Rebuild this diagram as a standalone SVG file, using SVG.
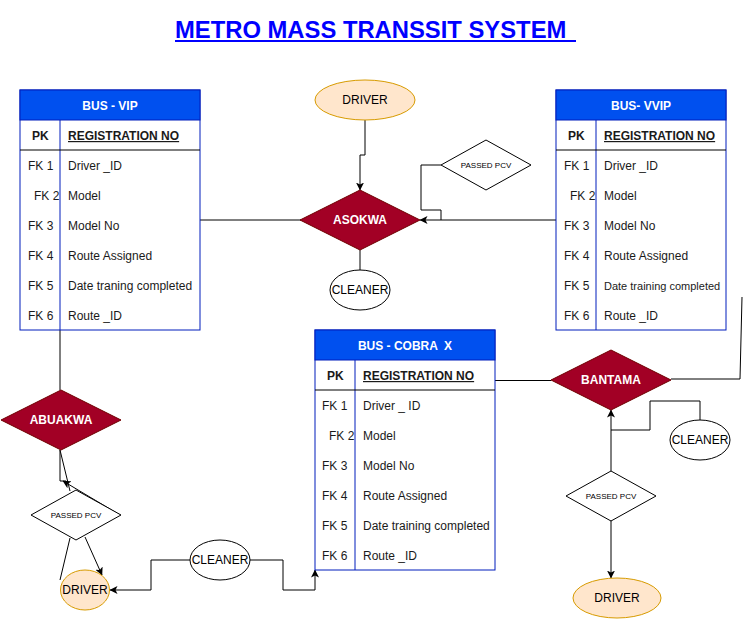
<svg xmlns="http://www.w3.org/2000/svg" width="744" height="620" viewBox="0 0 744 620">
<style>
.t{font-family:"Liberation Sans",Arial,sans-serif;font-size:12px;fill:#1a1a1a}
.b{font-weight:bold}
.hd{font-family:"Liberation Sans",Arial,sans-serif;font-size:12px;font-weight:bold;fill:#ffffff;text-anchor:middle}
.head{fill:#0050EF;stroke:#001DBC;stroke-width:1}
.body{fill:#ffffff;stroke:#001DBC;stroke-width:1}
.div{stroke:#001DBC;stroke-width:1}
.sep{stroke:#000000;stroke-width:1}
.rel{fill:#A20025;stroke:#6F0000;stroke-width:1}
.rt{font-family:"Liberation Sans",Arial,sans-serif;font-size:12px;font-weight:bold;fill:#ffffff;text-anchor:middle}
.drv{fill:#FFE6CC;stroke:#D79B00;stroke-width:1}
.cln{fill:#ffffff;stroke:#000000;stroke-width:1}
.et{font-family:"Liberation Sans",Arial,sans-serif;font-size:12px;fill:#000000;text-anchor:middle}
.pcv{fill:#ffffff;stroke:#000000;stroke-width:1}
.pt{font-family:"Liberation Sans",Arial,sans-serif;font-size:8px;fill:#000000;text-anchor:middle}
.c{fill:none;stroke:#000000;stroke-width:1}
.ca{fill:none;stroke:#000000;stroke-width:1;marker-end:url(#arr)}
.reg{text-decoration:underline}
</style>
<defs>
<marker id="arr" viewBox="0 0 8 8" refX="7.5" refY="4" markerWidth="8" markerHeight="8" markerUnits="userSpaceOnUse" orient="auto">
<path d="M0,0 L8,4 L0,8 L2,4 z" fill="#000000"/>
</marker>
</defs>
<rect width="744" height="620" fill="#ffffff"/>

<g id="title">
<text x="175" y="38" font-family="'Liberation Sans',Arial,sans-serif" font-size="23.8" font-weight="bold" fill="#0000FF">METRO MASS TRANSSIT SYSTEM</text>
<line x1="175" y1="41" x2="576" y2="41" stroke="#0000FF" stroke-width="2"/>
</g>

<g id="connectors">
<path class="ca" d="M365,120 V155 H360 V190"/>
<path class="c" d="M200,220 H301"/>
<path class="ca" d="M556,220 H420"/>
<path class="c" d="M441,165 H421 V210 H441 V220"/>
<path class="c" d="M360,250 V270"/>
<path class="c" d="M60,330 V390"/>
<path class="c" d="M60,450 V481 H66"/>
<path class="c" d="M60,450 L70,491"/>
<path class="ca" d="M120,515 L63,481"/>
<path class="c" d="M70,538 L60,580"/>
<path class="ca" d="M85,537 L102,575"/>
<path class="ca" d="M190,560 H151 V590 H110"/>
<path class="ca" d="M250,560 H283 V590 H315 V570"/>
<path class="c" d="M470,380.5 H551"/>
<path class="c" d="M742,297 L740,379 H671"/>
<path class="ca" d="M700,420 V401 H650 V430 H611 V410"/>
<path class="c" d="M611,471 V430"/>
<path class="ca" d="M611,520 V578"/>
</g>

<g id="bus-vip">
<rect class="body" x="20" y="90" width="180" height="240"/>
<rect class="head" x="20" y="90" width="180" height="30"/>
<line class="div" x1="60" y1="120" x2="60" y2="330"/>
<line class="sep" x1="20" y1="150" x2="200" y2="150"/>
<text class="hd" x="110" y="110">BUS - VIP</text>
<text class="t b" x="32" y="140">PK</text>
<text class="t b reg" x="68" y="140">REGISTRATION NO</text>
<text class="t" x="28" y="170">FK 1</text><text class="t" x="68" y="170">Driver _ID</text>
<text class="t" x="34" y="200">FK 2</text><text class="t" x="68" y="200">Model</text>
<text class="t" x="28" y="230">FK 3</text><text class="t" x="68" y="230">Model No</text>
<text class="t" x="28" y="260">FK 4</text><text class="t" x="68" y="260">Route Assigned</text>
<text class="t" x="28" y="290">FK 5</text><text class="t" x="68" y="290">Date traning completed</text>
<text class="t" x="28" y="320">FK 6</text><text class="t" x="68" y="320">Route _ID</text>
</g>

<g id="bus-vvip">
<rect class="body" x="556" y="90" width="170" height="240"/>
<rect class="head" x="556" y="90" width="170" height="30"/>
<line class="div" x1="596" y1="120" x2="596" y2="330"/>
<line class="sep" x1="556" y1="150" x2="726" y2="150"/>
<text class="hd" x="641" y="110">BUS- VVIP</text>
<text class="t b" x="568" y="140">PK</text>
<text class="t b reg" x="604" y="140">REGISTRATION NO</text>
<text class="t" x="564" y="170">FK 1</text><text class="t" x="604" y="170">Driver _ID</text>
<text class="t" x="570" y="200">FK 2</text><text class="t" x="604" y="200">Model</text>
<text class="t" x="564" y="230">FK 3</text><text class="t" x="604" y="230">Model No</text>
<text class="t" x="564" y="260">FK 4</text><text class="t" x="604" y="260">Route Assigned</text>
<text class="t" x="564" y="290">FK 5</text><text class="t" x="604" y="290" style="font-size:11px">Date training completed</text>
<text class="t" x="564" y="320">FK 6</text><text class="t" x="604" y="320">Route _ID</text>
</g>

<g id="bus-cobra-x">
<rect class="body" x="315" y="330" width="180" height="240"/>
<rect class="head" x="315" y="330" width="180" height="30"/>
<line class="div" x1="355" y1="360" x2="355" y2="570"/>
<line class="sep" x1="315" y1="390" x2="495" y2="390"/>
<text class="hd" x="405" y="350" xml:space="preserve">BUS - COBRA  X</text>
<text class="t b" x="327" y="380">PK</text>
<text class="t b reg" x="363" y="380">REGISTRATION NO</text>
<text class="t" x="322" y="410">FK 1</text><text class="t" x="363" y="410">Driver _ ID</text>
<text class="t" x="329" y="440">FK 2</text><text class="t" x="363" y="440">Model</text>
<text class="t" x="322" y="470">FK 3</text><text class="t" x="363" y="470">Model No</text>
<text class="t" x="322" y="500">FK 4</text><text class="t" x="363" y="500">Route Assigned</text>
<text class="t" x="322" y="530">FK 5</text><text class="t" x="363" y="530">Date training completed</text>
<text class="t" x="322" y="560">FK 6</text><text class="t" x="363" y="560">Route _ID</text>
</g>

<g id="asokwa">
<polygon class="rel" points="360,190 420,220 360,250 300,220"/>
<text class="rt" x="360" y="224">ASOKWA</text>
</g>
<g id="bantama">
<polygon class="rel" points="611,350 671,380 611,410 551,380"/>
<text class="rt" x="611" y="384">BANTAMA</text>
</g>
<g id="abuakwa">
<polygon class="rel" points="61,390 121,420 61,450 1,420"/>
<text class="rt" x="61" y="424">ABUAKWA</text>
</g>

<g id="driver-top">
<ellipse class="drv" cx="365" cy="100" rx="50" ry="20"/>
<text class="et" x="365" y="104">DRIVER</text>
</g>
<g id="driver-left">
<ellipse class="drv" cx="85" cy="590" rx="24.5" ry="20"/>
<text class="et" x="85" y="594">DRIVER</text>
</g>
<g id="driver-right">
<ellipse class="drv" cx="617" cy="598" rx="44" ry="20"/>
<text class="et" x="617" y="602">DRIVER</text>
</g>

<g id="cleaner-top">
<ellipse class="cln" cx="360" cy="290" rx="30" ry="20"/>
<text class="et" x="360" y="294">CLEANER</text>
</g>
<g id="cleaner-bottom">
<ellipse class="cln" cx="220" cy="560" rx="30" ry="20"/>
<text class="et" x="220" y="564">CLEANER</text>
</g>
<g id="cleaner-right">
<ellipse class="cln" cx="700" cy="440" rx="30" ry="20"/>
<text class="et" x="700" y="444">CLEANER</text>
</g>

<g id="pcv-top">
<polygon class="pcv" points="486,140 531,165 486,190 441,165"/>
<text class="pt" x="486" y="168">PASSED PCV</text>
</g>
<g id="pcv-left">
<polygon class="pcv" points="76,490 121,515 76,540 31,515"/>
<text class="pt" x="76" y="518">PASSED PCV</text>
</g>
<g id="pcv-right">
<polygon class="pcv" points="611,471 656,496 611,521 566,496"/>
<text class="pt" x="611" y="499">PASSED PCV</text>
</g>
</svg>
